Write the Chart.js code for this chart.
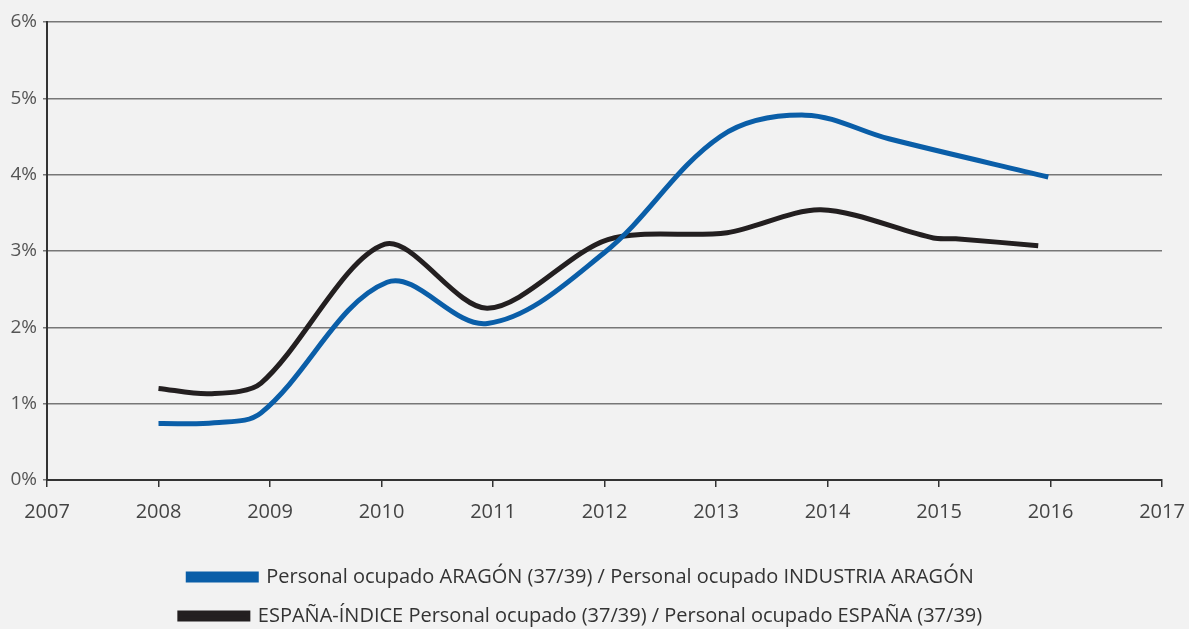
<!DOCTYPE html>
<html>
<head>
<meta charset="utf-8">
<script src="https://cdn.jsdelivr.net/npm/chart.js@4.4.1/dist/chart.umd.min.js"></script>
<style>
  html, body { margin: 0; padding: 0; background: #f2f2f2; }
  #wrap { width: 1189px; height: 629px; }
</style>
</head>
<body>
<div id="wrap"><canvas id="graphCanvas" width="1189" height="629"></canvas></div>
<script>
// series labels
const labelAragon = 'Personal ocupado ARAGÓN (37/39) / Personal ocupado INDUSTRIA ARAGÓN';
const labelEspana = 'ESPAÑA-ÍNDICE Personal ocupado (37/39) / Personal ocupado ESPAÑA (37/39)';

// points (year, %)
const aragonYears = [2008, 2008.5, 2008.92, 2010.05, 2010.95, 2012.0, 2013.04, 2013.8, 2014.55, 2015.98];
const aragonValues = [0.74, 0.75, 0.88, 2.59, 2.05, 2.98, 4.5, 4.78, 4.47, 3.97];

const espanaYears = [2008, 2008.46, 2008.92, 2010.03, 2010.95, 2012.03, 2013.1, 2013.94, 2014.95, 2015.15, 2015.89];
const espanaValues = [1.2, 1.13, 1.27, 3.09, 2.25, 3.15, 3.24, 3.54, 3.17, 3.16, 3.07];

// axis ticks
const xMin = 2007, xMax = 2017;
const yMin = 0, yMax = 6;

const toPoints = (xs, ys) => xs.map((x, i) => ({ x: x, y: ys[i] }));

const ctx = document.getElementById('graphCanvas').getContext('2d');
const fontFam = '"Open Sans", Lato, sans-serif';

new Chart(ctx, {
  type: 'line',
  data: {
    datasets: [
      {
        label: labelAragon,
        data: toPoints(aragonYears, aragonValues),
        borderColor: '#0a5ea8',
        backgroundColor: '#0a5ea8',
        borderWidth: 5,
        pointRadius: 0,
        tension: 0.35,
        fill: false
      },
      {
        label: labelEspana,
        data: toPoints(espanaYears, espanaValues),
        borderColor: '#231f20',
        backgroundColor: '#231f20',
        borderWidth: 5,
        pointRadius: 0,
        tension: 0.3,
        fill: false
      }
    ]
  },
  options: {
    responsive: false,
    animation: false,
    layout: { padding: { left: 0, right: 27, top: 22, bottom: -7 } },
    plugins: {
      legend: {
        display: true,
        position: 'bottom',
        labels: {
          boxWidth: 68,
          boxHeight: 6,
          padding: 19,
          color: '#333',
          font: { family: fontFam, size: 20 }
        }
      },
      tooltip: { enabled: false }
    },
    scales: {
      x: {
        type: 'linear',
        min: xMin,
        max: xMax,
        ticks: {
          stepSize: 1,
          color: '#444',
          padding: 13,
          font: { family: fontFam, size: 20 },
          callback: v => String(v)
        },
        grid: {
          drawOnChartArea: false,
          drawTicks: true,
          tickLength: 7,
          color: '#333',
          lineWidth: 1.5
        },
        border: { display: true, color: '#333', width: 2 },
        afterFit(scale) {
          scale.height = 68;
          scale.paddingLeft = 0;
          scale.paddingRight = 0;
        }
      },
      y: {
        min: yMin,
        max: yMax,
        ticks: {
          stepSize: 1,
          color: '#555',
          padding: 6,
          font: { family: fontFam, size: 19 },
          callback: v => v + '%'
        },
        grid: {
          color: '#777',
          lineWidth: 1.5,
          drawTicks: true,
          tickLength: 4
        },
        border: { display: true, color: '#333', width: 2 },
        afterFit(scale) { scale.width = 47; }
      }
    }
  }
});
</script>
</body>
</html>
